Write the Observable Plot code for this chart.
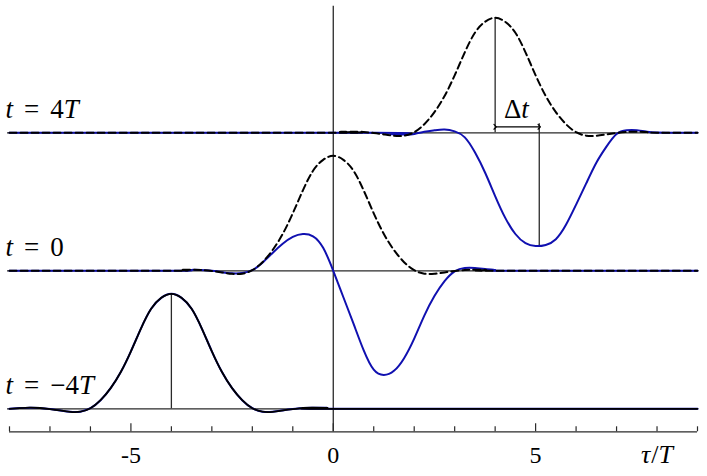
<!DOCTYPE html>
<html><head><meta charset="utf-8">
<script src="https://cdn.jsdelivr.net/npm/d3@7"></script>
<script src="https://cdn.jsdelivr.net/npm/@observablehq/plot@0.6"></script>
<style>body{margin:0;background:#fff}svg{display:block;background:#fff}
svg text{font-family:"Liberation Serif","Times New Roman","DejaVu Serif",serif !important}</style>
</head><body><div id="chart"></div>
<script>
// ---- data ----
// reference pulse shape (offset from its centre, normalised height)
const pulseOffsets = [-4,-3.75,-3.5,-3.25,-3,-2.75,-2.5,-2.25,-2,-1.75,-1.5,-1.25,-1,-0.75,-0.5,-0.25,0,0.25,0.5,0.75,1,1.25,1.5,1.75,2,2.25,2.5,2.75,3,3.25,3.5,3.75,4];
const pulseValues  = [0,0.006,0.01,0.007,-0.002,-0.014,-0.026,-0.025,0.005,0.075,0.18,0.32,0.5,0.7,0.87,0.965,1,0.965,0.87,0.7,0.5,0.32,0.18,0.075,0.005,-0.025,-0.026,-0.014,-0.002,0.007,0.01,0.006,0];
// centres of the black reference pulse at each time
const refCentres = [4, 0, -4];
// vertical offsets of the three time rows
const rowOffsets = [2.4, 1.2, 0];
const rowLabels = ["t = 4T", "t = 0", "t = −4T"];
// blue signal at t = 0
const blue0Tau = [-8,-4,-3.5,-3,-2.75,-2.5,-2.25,-2,-1.75,-1.5,-1.25,-1,-0.75,-0.5,-0.25,0,0.25,0.5,0.75,1,1.25,1.5,1.75,2,2.25,2.5,2.75,3,3.25,3.5,3.75,4,4.5,9];
const blue0Val = [0,0,0.008,0,-0.012,-0.022,-0.02,0.005,0.07,0.155,0.235,0.295,0.32,0.3,0.2,0,-0.23,-0.46,-0.69,-0.86,-0.906,-0.87,-0.76,-0.59,-0.39,-0.22,-0.09,-0.005,0.024,0.024,0.016,0.005,0,0];
// blue signal at t = 4T
const blue4Tau = [-8,1,1.5,1.75,2,2.25,2.5,2.75,3,3.25,3.5,3.75,4,4.25,4.5,4.75,5,5.25,5.5,5.75,6,6.25,6.5,6.75,7,7.25,7.5,7.75,8,8.5,9];
const blue4Val = [0,0,-0.01,-0.015,-0.01,0.01,0.022,0.028,0.012,-0.04,-0.17,-0.345,-0.55,-0.74,-0.88,-0.96,-0.985,-0.975,-0.925,-0.8,-0.625,-0.44,-0.26,-0.12,-0.01,0.022,0.022,0.01,0.003,0,0];
// marker lines
const markerTau = [-4, 4, 5.09];
const markerFrom = [0, 2.4, 1.415];
const markerTo = [1, 3.4, 2.478];
// delay arrow
const delayFrom = 4, delayTo = 5.09, delayLabel = "Δt";
// axis
const tauDomain = [-8, 9];
const minorTicks = [-8,-7,-6,-4,-3,-2,-1,1,2,3,4,6,7,8,9];
const majorTicks = [-5,0,5];
const tickLabelValues = [-5,0,5];
const tickLabelTexts = ["-5","0","5"];
const axisTitle = "τ/T";
const axisTitleTau = 8;

// ---- build tables ----
const PX = 115;           // pixels per unit of height (style)
const axisLevel = -0.2;
function pulseAt(c, off) {
  const pts = [];
  if (c + pulseOffsets[0] > tauDomain[0]) pts.push({tau: tauDomain[0], y: off});
  pulseOffsets.forEach((d, i) => pts.push({tau: c + d, y: off + pulseValues[i]}));
  if (c + pulseOffsets[pulseOffsets.length-1] < tauDomain[1]) pts.push({tau: tauDomain[1], y: off});
  return pts;
}
const dashed4 = pulseAt(refCentres[0], rowOffsets[0]);
const dashed0 = pulseAt(refCentres[1], rowOffsets[1]);
const solidM4 = pulseAt(refCentres[2], rowOffsets[2]);
const blue0 = blue0Tau.map((t,i)=>({tau:t, y: rowOffsets[1] + blue0Val[i]}));
const blue4 = blue4Tau.map((t,i)=>({tau:t, y: rowOffsets[0] + blue4Val[i]}));
const markers = markerTau.map((t,i)=>({tau:t, y1:markerFrom[i], y2:markerTo[i]}));
const rows = rowOffsets.map((o,i)=>({y:o, label:rowLabels[i]}));

const BLUE = "#1010b0";
const THIN = "#2a2a2a";
const SERIF = "Liberation Serif, DejaVu Serif, serif";
const CURVE = "natural";
const chart = Plot.plot({
  width: 707, height: 476,
  marginLeft: 9, marginRight: 10, marginTop: 0, marginBottom: 0,
  x: {domain: tauDomain, axis: null},
  y: {domain: [(408.3-476)/PX, 408.3/PX], axis: null},
  marks: [
    Plot.ruleY(rows, {y: "y", x1: -8.05, x2: 9, stroke: THIN, strokeWidth: 1.3}),
    Plot.ruleY([axisLevel], {x1: tauDomain[0], x2: tauDomain[1], stroke: THIN, strokeWidth: 1.3}),
    Plot.ruleX(minorTicks, {x: d=>d, y1: axisLevel, y2: axisLevel + 5/PX, stroke: THIN, strokeWidth: 1.2}),
    Plot.ruleX(majorTicks, {x: d=>d, y1: axisLevel, y2: axisLevel + 8/PX, stroke: THIN, strokeWidth: 1.2}),
    Plot.ruleX([0], {x: d=>d, y1: axisLevel, y2: 3.5, stroke: THIN, strokeWidth: 1.3}),
    Plot.ruleX(markers, {x: "tau", y1: "y1", y2: "y2", stroke: THIN, strokeWidth: 1.3}),
    Plot.link([{a: delayFrom, b: delayTo, y: rowOffsets[0] + 6/PX}], {x1: "a", x2: "b", y1: "y", y2: "y", stroke: "#000", strokeWidth: 1.2, markerStart: "arrow", markerEnd: "arrow"}),
    Plot.line(solidM4, {x: "tau", y: "y", stroke: BLUE, strokeWidth: 2, curve: CURVE}),
    Plot.line(blue0, {x: "tau", y: "y", stroke: BLUE, strokeWidth: 2, curve: CURVE}),
    Plot.line(blue4, {x: "tau", y: "y", stroke: BLUE, strokeWidth: 2, curve: CURVE}),
    Plot.line(dashed4, {x: "tau", y: "y", stroke: "#000", strokeWidth: 2, strokeDasharray: "7,4", curve: CURVE}),
    Plot.line(dashed0, {x: "tau", y: "y", stroke: "#000", strokeWidth: 2, strokeDasharray: "7,4", curve: CURVE}),
    Plot.line(solidM4, {x: "tau", y: "y", stroke: "#000", strokeWidth: 1.8, curve: CURVE}),
    Plot.text(rows, {x: -8.1, y: "y", text: "label", textAnchor: "start", lineAnchor: "bottom", dy: -14.5, fontSize: 27, fontFamily: SERIF, fill: "#000"}),
    Plot.text([delayLabel], {x: (delayFrom+delayTo)/2 - 0.02, y: rowOffsets[0], text: d=>d, textAnchor: "middle", lineAnchor: "bottom", dy: -14.5, fontSize: 27, fontFamily: SERIF, fill: "#000"}),
    Plot.text(tickLabelValues, {x: d=>d, y: axisLevel, text: (d,i)=>tickLabelTexts[i], lineAnchor: "middle", dy: 24, fontSize: 24, fontFamily: SERIF, fill: "#000"}),
    Plot.text([axisTitle], {x: axisTitleTau, y: axisLevel, text: d=>d, lineAnchor: "middle", dy: 23, fontSize: 26, fontFamily: SERIF, fill: "#000"})
  ]
});
document.getElementById("chart").appendChild(chart);

// typeset variables in italic, numbers and operators upright
const NS = "http://www.w3.org/2000/svg";
d3.select(chart).selectAll("text").each(function() {
  const s = this.textContent;
  if (!/[A-Za-zτΔ]/.test(s)) return;
  this.textContent = "";
  s.split(" ").forEach((tok, k) => {
    [...tok].forEach((ch, j) => {
      const ts = document.createElementNS(NS, "tspan");
      if (/[A-Za-zτ]/.test(ch)) ts.setAttribute("font-style", "italic");
      if (j === 0 && k > 0) ts.setAttribute("dx", 11);
      if (ch === "/") ts.setAttribute("dx", 1);
      ts.textContent = ch;
      this.appendChild(ts);
    });
  });
});
</script>
</body></html>
